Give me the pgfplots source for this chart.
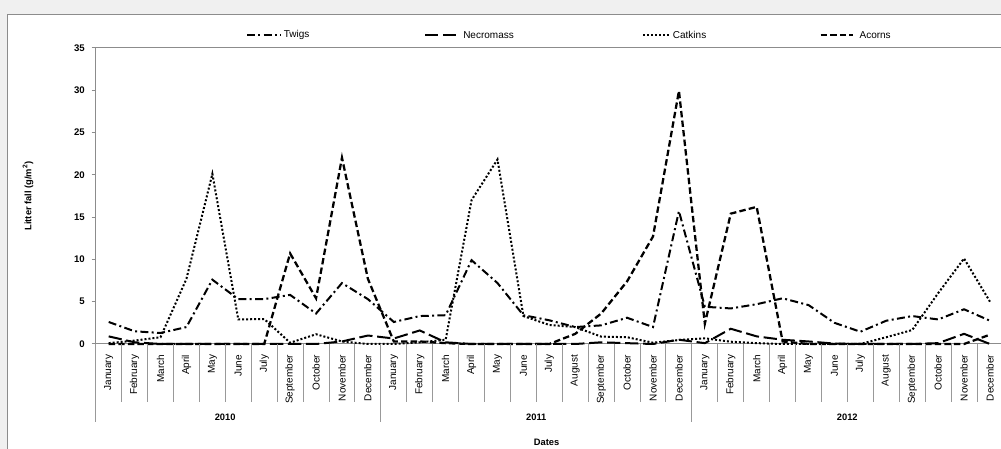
\documentclass[border=0pt]{standalone}
\usepackage{pgfplots}
\pgfplotsset{compat=1.18}
\usepackage{pgfplotstable}
\usepackage{fontspec}
\setmainfont{Liberation Sans}

\pgfplotstableread{
idx twigs necro catkins acorns
0  2.6  0.9  0.1  0
1  1.5  0.2  0.4  0
2  1.3  0    0.8  0
3  2.0  0    7.7  0
4  7.6  0    20.1 0
5  5.3  0    2.9  0
6  5.3  0    2.95 0
7  5.8  0    0.15 10.7
8  3.6  0    1.15 5.4
9  7.2  0.3  0.3  22.0
10 5.3  1.0  0    7.7
11 2.6  0.65 0    0.3
12 3.3  1.6  0.2  0.3
13 3.4  0.2  0.5  0.1
14 9.9  0    17.0 0
15 7.2  0    21.8 0
16 3.4  0    3.3  0
17 2.8  0    2.25 0
18 2.0  0    2.0  1.2
19 2.2  0.2  0.87 3.6
20 3.1  0.1  0.8  7.4
21 2.0  0    0.15 12.7
22 15.7 0.5  0.47 29.9
23 4.4  0.1  0.67 2.4
24 4.2  1.8  0.27 15.4
25 4.7  0.9  0.1  16.2
26 5.4  0.5  0    0.3
27 4.6  0.3  0    0
28 2.5  0.05 0    0
29 1.45 0    0    0
30 2.75 0    0.8  0
31 3.3  0    1.65 0
32 2.9  0.1  6.0  0
33 4.1  1.2  10.1 0
34 2.75 0    5.0  1.1
}\datatable

\tikzset{
  twigsstyle/.style={black, line width=1.5pt, dash pattern=on 6pt off 2.5pt on 1.5pt off 2.5pt},
  necrostyle/.style={black, line width=1.5pt, dash pattern=on 10pt off 3.5pt},
  catkinsstyle/.style={black, line width=1.5pt, dash pattern=on 1.5pt off 1.5pt},
  acornsstyle/.style={black, line width=1.7pt, dash pattern=on 4.8pt off 2.4pt},
}

\begin{document}
\begin{tikzpicture}
\useasboundingbox (0pt,0pt) rectangle (750.75pt,336.75pt);
\clip (0pt,0pt) rectangle (750.75pt,336.75pt);
\fill[black!6] (0pt,0pt) rectangle (750.75pt,336.75pt);
\filldraw[fill=white, draw=black!45, line width=0.75pt] (5.25pt,-2pt) rectangle (760pt,325.5pt);

\begin{axis}[
  at={(71.8pt,78.75pt)}, anchor=south west,
  scale only axis, width=680.4pt, height=222.2pt,
  xmin=-0.5, xmax=34.5, ymin=0, ymax=35,
  clip=false,
  axis line style={black!45, line width=0.75pt},
  tick align=outside,
  major tick length=3pt,
  ytick={0,5,...,35},
  ytick pos=left,
  ytick style={black!45, line width=0.75pt},
  yticklabel style={font=\bfseries\fontsize{7.2}{8}\selectfont, inner sep=0pt, xshift=-5pt},
  /pgf/number format/assume math mode=true,
  xtick={0,...,34},
  xtick style={draw=none},
  xticklabels={January,February,March,April,May,June,July,September,October,November,December,
    January,February,March,April,May,June,July,August,September,October,November,December,
    January,February,March,April,May,June,July,August,September,October,November,December},
  xticklabel style={rotate=90, anchor=east, font=\fontsize{7.5}{8}\selectfont, inner sep=0pt},
  xticklabel shift=5pt,
  ylabel={Litter fall (g/m\textsuperscript{2})},
  ylabel style={at={(axis description cs:-0.0746,0.5)}, anchor=center, font=\bfseries\fontsize{7}{8}\selectfont},
  xlabel={Dates},
  xlabel style={at={(axis description cs:0.497,-0.331)}, anchor=center, font=\bfseries\fontsize{7}{8}\selectfont},
]
\addplot[twigsstyle] table[x=idx, y=twigs] {\datatable};
\addplot[necrostyle] table[x=idx, y=necro] {\datatable};
\addplot[catkinsstyle] table[x=idx, y=catkins] {\datatable};
\addplot[acornsstyle] table[x=idx, y=acorns] {\datatable};

\pgfplotsinvokeforeach{-0.5,0.5,1.5,2.5,3.5,4.5,5.5,6.5,7.5,8.5,9.5,11.5,12.5,13.5,14.5,15.5,16.5,17.5,18.5,19.5,20.5,21.5,23.5,24.5,25.5,26.5,27.5,28.5,29.5,30.5,31.5,32.5,33.5}{
  \draw[black!40, line width=0.75pt] (axis cs:#1,0) -- ++(0pt,-43.5pt);
}
\pgfplotsinvokeforeach{-0.5,10.5,22.5}{
  \draw[black!40, line width=0.75pt] (axis cs:#1,0) -- ++(0pt,-58.5pt);
}
\node[font=\bfseries\fontsize{7}{8}\selectfont] at (axis description cs:0.1427,-0.246) {2010};
\node[font=\bfseries\fontsize{7}{8}\selectfont] at (axis description cs:0.4856,-0.246) {2011};
\node[font=\bfseries\fontsize{7}{8}\selectfont] at (axis description cs:0.8284,-0.246) {2012};
\end{axis}

% legend
\draw[twigsstyle] (185.25pt,310.5pt) -- (211pt,310.5pt);
\node[anchor=west, inner sep=0pt, font=\fontsize{7.5}{8}\selectfont] at (212.75pt,310.5pt) {Twigs};
\draw[necrostyle] (318.75pt,310.5pt) -- (345pt,310.5pt);
\node[anchor=west, inner sep=0pt, font=\fontsize{7.5}{8}\selectfont] at (347.25pt,310.5pt) {Necromass};
\draw[catkinsstyle] (482.25pt,310.5pt) -- (503pt,310.5pt);
\node[anchor=west, inner sep=0pt, font=\fontsize{7.5}{8}\selectfont] at (504.5pt,310.5pt) {Catkins};
\draw[acornsstyle] (615.5pt,310.5pt) -- (640pt,310.5pt);
\node[anchor=west, inner sep=0pt, font=\fontsize{7.5}{8}\selectfont] at (644.5pt,310.5pt) {Acorns};
\end{tikzpicture}
\end{document}
